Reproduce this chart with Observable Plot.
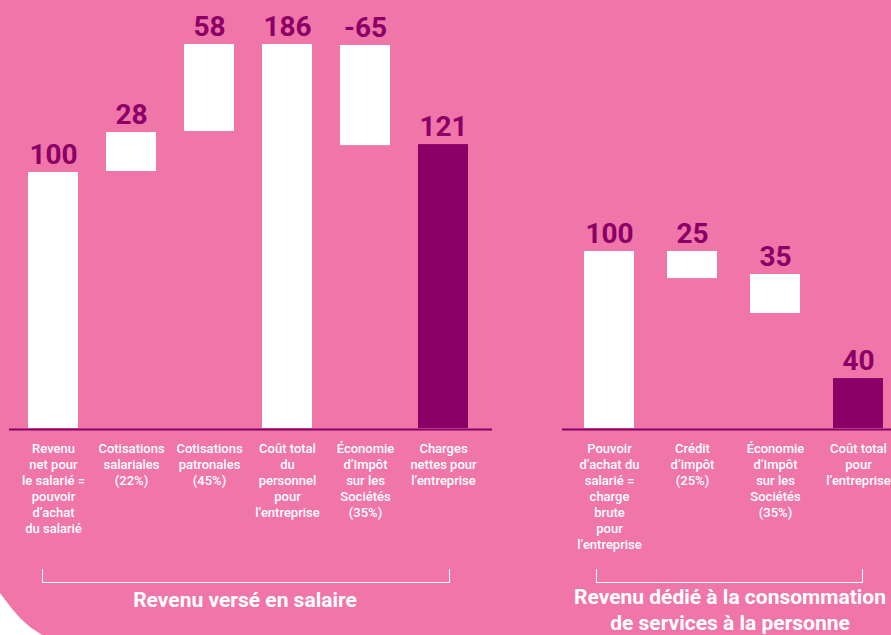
<!DOCTYPE html>
<html><head><meta charset="utf-8">
<script src="https://cdn.jsdelivr.net/npm/d3@7"></script>
<script src="https://cdn.jsdelivr.net/npm/@observablehq/plot@0.6"></script>
<style>
html,body{margin:0;padding:0;background:#fff;}
#stage{position:relative;width:891px;height:635px;background:#F075A9;overflow:hidden;font-family:Roboto,"Noto Sans",sans-serif;}
.plot{position:absolute;top:0;}
.corner{position:absolute;left:0;top:0;width:891px;height:635px;background:#fff;clip-path:polygon(0 593px, 6px 601px, 13px 610px, 21px 619px, 30px 627px, 42px 635px, 0 635px);}
.bracket{position:absolute;top:569px;height:14px;box-sizing:border-box;border:1.5px solid #fff;border-top:none;}
.title{position:absolute;color:#fff;font-weight:700;font-size:21px;line-height:26px;text-align:center;white-space:nowrap;}
</style></head>
<body>
<div id="stage">
  <div class="corner"></div>
  <div class="bracket" style="left:42px;width:408px;"></div>
  <div class="bracket" style="left:596px;width:267px;"></div>
  <div class="title" style="left:45px;width:400px;top:587px;">Revenu versé en salaire</div>
  <div class="title" style="left:530px;width:400px;top:584px;">Revenu dédié à la consommation<br>de services à la personne</div>
</div>
<script>
const DARK = "#8A0066";

// Left chart: "Revenu versé en salaire"
const leftCategories = [
  "Revenu\nnet pour\nle salarié =\npouvoir\nd’achat\ndu salarié",
  "Cotisations\nsalariales\n(22%)",
  "Cotisations\npatronales\n(45%)",
  "Coût total\ndu\npersonnel\npour\nl’entreprise",
  "Économie\nd’Impôt\nsur les\nSociétés\n(35%)",
  "Charges\nnettes pour\nl’entreprise"
];
const leftLabels = [100, 28, 58, 186, -65, 121];
// bar extents as drawn (stylised; 100 = first bar)
const leftFrom = [0, 100.4, 116, 0, 110.5, 0];
const leftTo   = [100, 115.6, 150, 150, 149.6, 110.9];
const leftKind = ["start", "step", "step", "sum", "step", "result"];

// Right chart: "Revenu dédié à la consommation de services à la personne"
const rightCategories = [
  "Pouvoir\nd’achat du\nsalarié =\ncharge\nbrute\npour\nl’entreprise",
  "Crédit\nd’impôt\n(25%)",
  "Économie\nd’Impôt\nsur les\nSociétés\n(35%)",
  "Coût total\npour\nl’entreprise"
];
const rightLabels = [100, 25, 35, 40];
const rightFrom = [0, 84.7, 65, 0];
const rightTo   = [100, 100, 87, 28.2];
const rightKind = ["start", "step", "step", "result"];

function rows(cats, labels, from, to, kind) {
  return cats.map((c, i) => ({cat: c, label: labels[i], y1: from[i], y2: to[i], kind: kind[i]}));
}

function chart(data, {width, xRange, padIn, yRange, marginLeft, marginRight}) {
  return Plot.plot({
    width, height: 560,
    marginTop: 0, marginBottom: 0, marginLeft, marginRight,
    style: {background: "transparent", overflow: "visible", fontFamily: "Roboto, 'Noto Sans', sans-serif"},
    x: {domain: data.map(d => d.cat), range: xRange, paddingInner: padIn, paddingOuter: padIn / 2, axis: null},
    y: {domain: [0, 100], range: yRange, axis: null},
    marks: [
      Plot.barY(data, {x: "cat", y1: "y1", y2: "y2", fill: d => d.kind === "result" ? DARK : "#ffffff"}),
      Plot.ruleY([0], {stroke: DARK, strokeWidth: 2, dy: 1}),
      Plot.text(data, {x: "cat", y: d => Math.max(d.y1, d.y2), text: d => String(d.label),
        lineAnchor: "bottom", dy: -9, fill: DARK, fontSize: 28, fontWeight: 700}),
      Plot.text(data, {x: "cat", y: () => 0, text: "cat", lineAnchor: "top", dy: 13,
        fill: "#ffffff", fontSize: 13, fontWeight: 500, lineHeight: 1.23})
    ]
  });
}

const stage = document.getElementById("stage");

const leftSvg = chart(rows(leftCategories, leftLabels, leftFrom, leftTo, leftKind), {
  width: 500, xRange: [13, 482], padIn: 0.36, yRange: [428, 172], marginLeft: 9, marginRight: 8
});
leftSvg.classList.add("plot");
leftSvg.style.left = "0px";
stage.appendChild(leftSvg);

const rightSvg = chart(rows(rightCategories, rightLabels, rightFrom, rightTo, rightKind), {
  width: 391, xRange: [65.8, 400.2], padIn: 0.402, yRange: [428, 251], marginLeft: 62, marginRight: 0
});
rightSvg.classList.add("plot");
rightSvg.style.left = "500px";
stage.appendChild(rightSvg);
</script>
</body></html>
